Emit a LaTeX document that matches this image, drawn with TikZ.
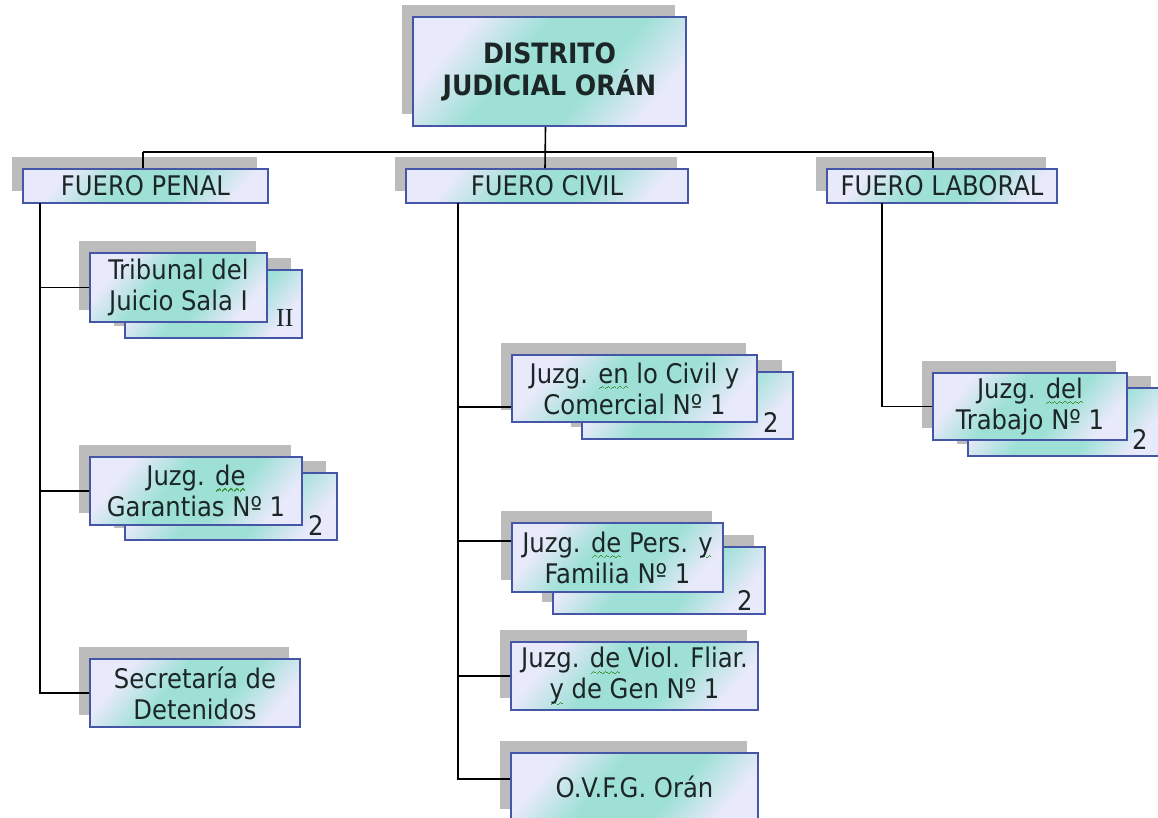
\documentclass[tikz,border=0pt]{standalone}
\usepackage{fontspec}
\setmainfont{DejaVu Sans Condensed}
\newfontfamily\romanfont{Liberation Serif}
\usetikzlibrary{shadows}
\definecolor{boxline}{RGB}{70,86,166}
\definecolor{boxlav}{RGB}{232,233,250}
\definecolor{boxaqua}{RGB}{158,224,214}
\definecolor{boxshadow}{RGB}{188,188,188}
\definecolor{boxtext}{RGB}{28,38,38}
\definecolor{spellgreen}{RGB}{60,150,60}
\pgfdeclarehorizontalshading{boxshade}{100bp}{color(0bp)=(boxlav); color(27bp)=(boxlav);
    color(42bp)=(boxaqua); color(60bp)=(boxaqua); color(75bp)=(boxlav); color(100bp)=(boxlav)}
\newcommand\spellwave{\hbox{\rule[-6pt]{1.3pt}{1.1pt}\rule[-5pt]{1.3pt}{1.1pt}\rule[-4pt]{1.3pt}{1.1pt}\rule[-5pt]{1.3pt}{1.1pt}}}
\newcommand\spellmark[1]{\setbox0=\hbox{#1}\rlap{\textcolor{spellgreen}{\hbox to \wd0{\xleaders\spellwave\hfill}}}\box0\relax}
\begin{document}
\begin{tikzpicture}[
    x=1pt, y=1pt,
    every node/.style={font=\fontsize{27}{31}\selectfont, text=boxtext, inner sep=0pt, align=center},
    unit/.style 2 args={draw=boxline, line width=1.6pt, shading=boxshade, shading angle=-40,
        general shadow={fill=boxshadow, shadow xshift=-11pt, shadow yshift=12pt},
        minimum width=#1, minimum height=#2},
    tag/.style={font=\fontsize{27}{31}\selectfont},
    link/.style={draw=black, line width=1.6pt}
]
\useasboundingbox (0,0) rectangle (1158,-818);
\fill[white] (0,0) rectangle (1158,-818);

\node[unit={273pt}{109pt}, font=\fontsize{28}{32}\selectfont\bfseries] (distrito) at (549.5,-71.5) {DISTRITO\\JUDICIAL ORÁN};

\node[unit={245pt}{34pt}] (penal) at (145.5,-186) {FUERO PENAL};
\node[unit={282pt}{34pt}] (civil) at (547,-186) {FUERO CIVIL};
\node[unit={230pt}{34pt}] (laboral) at (942,-186) {FUERO LABORAL};

\node[unit={177pt}{68pt}] (tribunalB) at (213.5,-304) {};
\node[unit={177pt}{69pt}] (tribunal) at (178.5,-287.5) {Tribunal del\\Juicio Sala I};
\node[tag, font=\fontsize{26}{31}\romanfont] (tribunalN) at ([shift={(17,5)}]tribunal.south east) {II};

\node[unit={212pt}{67pt}] (garantiasB) at (231,-506.5) {};
\node[unit={212pt}{68pt}] (garantias) at (196,-491) {Juzg. \spellmark{de}\\Garantias Nº 1};
\node[tag] (garantiasN) at ([shift={(13,0)}]garantias.south east) {2};

\node[unit={210pt}{68pt}] (secretaria) at (195,-693) {Secretaría de\\Detenidos};

\node[unit={211pt}{67pt}] (civcomB) at (687.5,-405.5) {};
\node[unit={245pt}{67pt}] (civcom) at (634.5,-388.5) {Juzg. \spellmark{en} lo Civil y\\Comercial Nº 1};
\node[tag] (civcomN) at ([shift={(13,0)}]civcom.south east) {2};

\node[unit={212pt}{67pt}] (familiaB) at (659,-580.5) {};
\node[unit={211pt}{69pt}] (familia) at (617.5,-557.5) {Juzg. \spellmark{de} Pers. \spellmark{y}\\Familia Nº 1};
\node[tag] (familiaN) at ([shift={(21,-8)}]familia.south east) {2};

\node[unit={247pt}{68pt}] (violencia) at (634.5,-676) {Juzg. \spellmark{de} Viol. Fliar.\\\spellmark{y} de Gen Nº 1};
\node[unit={247pt}{68pt}] (ovfg) at (634.5,-787) {O.V.F.G. Orán};

\node[unit={194pt}{68pt}] (trabajoB) at (1065,-422) {};
\node[unit={194pt}{67pt}] (trabajo) at (1030,-406.5) {Juzg. \spellmark{del}\\Trabajo Nº 1};
\node[tag] (trabajoN) at ([shift={(12,1)}]trabajo.south east) {2};

\coordinate (busL) at (143,-152);
\coordinate (busR) at (933,-152);
\coordinate (penspine) at (40,-203);
\coordinate (civspine) at (458,-203);
\coordinate (labspine) at (882,-203);

\draw[link] (busL) -- (busR);
\draw[link] ([xshift=-4pt]distrito.south) -- ([xshift=-2pt]civil.north);
\draw[link] (busL) -- (busL |- penal.north);
\draw[link] (busR) -- (busR |- laboral.north);

\draw[link] (penspine) |- (secretaria.west);
\draw[link] (penspine |- tribunal.west) -- (tribunal.west);
\draw[link] (penspine |- garantias.west) -- (garantias.west);

\draw[link] (civspine) |- ([yshift=8pt]ovfg.west);
\draw[link] (civspine |- violencia.west) -- (violencia.west);
\draw[link] (civspine |- 0,-407) -- ([yshift=-18.5pt]civcom.west);
\draw[link] (civspine |- 0,-541) -- ([yshift=16.5pt]familia.west);

\draw[link] (labspine) |- (trabajo.west);
\end{tikzpicture}
\end{document}
